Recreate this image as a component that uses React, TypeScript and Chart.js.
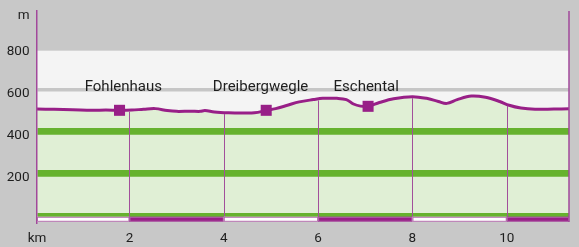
import React, { useEffect, useRef } from 'react';
import { Chart, registerables } from 'chart.js';

Chart.register(...registerables);

// ---- data ----
const profileKm = [0.04, 0.4, 0.8, 1.2, 1.5, 1.79, 2.05, 2.3, 2.55, 2.8, 3.0, 3.3, 3.5, 3.6, 3.8, 4.1, 4.4, 4.65, 4.9, 5.1, 5.35, 5.6, 5.9, 6.1, 6.4, 6.6, 6.75, 6.9, 7.06, 7.3, 7.6, 8.0, 8.3, 8.55, 8.73, 8.95, 9.25, 9.55, 9.85, 10.05, 10.3, 10.6, 11.0, 11.32];
const profileElev = [507, 506, 504, 501, 502, 501, 502, 506, 509, 500, 496, 497, 496, 500, 493, 489, 488, 489, 500, 509, 525, 541, 552, 558, 558, 552, 531, 521, 520, 538, 556, 566, 558, 543, 534, 552, 569, 563, 543, 525, 512, 506, 507, 508];

const placeNames = ['Fohlenhaus', 'Dreibergwegle', 'Eschental'];
const placeKm = [1.79, 4.9, 7.06];
const placeElev = [501, 501, 520];
const placeLabelKm = [1.87, 4.78, 7.02];

const xTickKm = [2, 4, 6, 8, 10];
const yTickElev = [0, 200, 400, 600, 800];

const X_MIN = 0.04;
const X_MAX = 11.32;
const Y_MIN = -31;
const Y_MAX = 974;
const BAND_TOP = 785;
const LABEL_ELEV = 600;
const BAR_TOP = -6;
const BAR_BOTTOM = -30;

// ---- styles ----
const BG = '#c8c8c8';
const BAND = '#f4f4f4';
const FILL = '#e0efd5';
const GREEN = '#66b22e';
const GRAYLINE = '#c6c6c6';
const PURPLE = '#981f87';
const AXIS = '#a2489b';
const VLINE = '#a24f9b';
const BAR_EDGE = '#b06aaa';
const TEXT = '#1e1e1e';
const FONT = 'Roboto';

function interpElev(km: number): number {
  for (let i = 0; i < profileKm.length - 1; i++) {
    if (km >= profileKm[i] && km <= profileKm[i + 1]) {
      const t = (km - profileKm[i]) / (profileKm[i + 1] - profileKm[i]);
      return profileElev[i] + t * (profileElev[i + 1] - profileElev[i]);
    }
  }
  return profileElev[profileElev.length - 1];
}

const decorPlugin = {
  id: 'profileDecor',
  beforeDraw(chart: any) {
    const { ctx, chartArea, scales } = chart;
    const y = scales.y;
    ctx.save();
    ctx.fillStyle = BG;
    ctx.fillRect(0, 0, chart.width, chart.height);
    const top = y.getPixelForValue(BAND_TOP);
    const bottom = y.getPixelForValue(0);
    ctx.fillStyle = BAND;
    ctx.fillRect(chartArea.left, top, chartArea.right - chartArea.left, bottom - top);
    ctx.restore();
  },
  afterDraw(chart: any) {
    const { ctx, chartArea, scales } = chart;
    const x = scales.x;
    const y = scales.y;
    ctx.save();
    // vertical km lines under the profile
    ctx.strokeStyle = VLINE;
    ctx.lineWidth = 1;
    xTickKm.forEach((k) => {
      const px = Math.round(x.getPixelForValue(k)) + 0.5;
      const py = y.getPixelForValue(interpElev(k)) + 1.5;
      ctx.beginPath();
      ctx.moveTo(px, py);
      ctx.lineTo(px, chartArea.bottom);
      ctx.stroke();
    });
    // bottom km bar
    const bTop = y.getPixelForValue(BAR_TOP);
    const bBot = y.getPixelForValue(BAR_BOTTOM);
    const bounds = [X_MIN, ...xTickKm, X_MAX];
    for (let i = 0; i < bounds.length - 1; i++) {
      const x0 = x.getPixelForValue(bounds[i]);
      const x1 = x.getPixelForValue(bounds[i + 1]);
      ctx.fillStyle = i % 2 === 0 ? '#ffffff' : PURPLE;
      ctx.fillRect(x0, bTop, x1 - x0, bBot - bTop);
      ctx.strokeStyle = BAR_EDGE;
      ctx.lineWidth = 1;
      ctx.strokeRect(x0 + 0.5, bTop + 0.5, x1 - x0 - 1, bBot - bTop - 1);
    }
    // right border
    ctx.strokeStyle = AXIS;
    ctx.lineWidth = 1.5;
    ctx.beginPath();
    ctx.moveTo(chartArea.right, chartArea.top);
    ctx.lineTo(chartArea.right, chartArea.bottom);
    ctx.stroke();
    // place labels
    ctx.fillStyle = TEXT;
    ctx.font = `15px ${FONT}`;
    ctx.textAlign = 'center';
    ctx.textBaseline = 'alphabetic';
    const ly = y.getPixelForValue(LABEL_ELEV) + 1.5;
    placeNames.forEach((name, i) => {
      ctx.fillText(name, x.getPixelForValue(placeLabelKm[i]), ly);
    });
    ctx.restore();
  },
};

export default function App() {
  const canvasRef = useRef<HTMLCanvasElement | null>(null);

  useEffect(() => {
    document.body.style.margin = '0';
    document.body.style.background = BG;
    const canvas = canvasRef.current;
    if (!canvas) return;

    const gridColor = (ctx: any) => {
      const v = ctx.tick ? ctx.tick.value : null;
      if (v === 600) return GRAYLINE;
      if (v === 0 || v === 200 || v === 400) return GREEN;
      return 'rgba(0,0,0,0)';
    };
    const gridWidth = (ctx: any) => {
      const v = ctx.tick ? ctx.tick.value : null;
      if (v === 600) return 3.4;
      if (v === 0) return 4;
      if (v === 200 || v === 400) return 6.7;
      return 0;
    };

    const chart = new Chart(canvas, {
      type: 'line',
      data: {
        datasets: [
          {
            label: 'places',
            data: placeKm.map((k, i) => ({ x: k, y: placeElev[i] })),
            showLine: false,
            pointStyle: 'rect',
            pointRadius: 7.8,
            pointBorderWidth: 0,
            pointBackgroundColor: PURPLE,
            borderColor: PURPLE,
            order: 0,
          },
          {
            label: 'profile',
            data: profileKm.map((k, i) => ({ x: k, y: profileElev[i] })),
            borderColor: PURPLE,
            borderWidth: 3,
            backgroundColor: FILL,
            fill: 'origin',
            pointRadius: 0,
            tension: 0.35,
            order: 1,
          },
        ],
      },
      options: {
        animation: false,
        responsive: false,
        devicePixelRatio: 1,
        layout: { padding: { top: 11, right: 10, left: 0, bottom: 0 } },
        plugins: { legend: { display: false }, tooltip: { enabled: false } },
        scales: {
          x: {
            type: 'linear',
            min: X_MIN,
            max: X_MAX,
            afterBuildTicks: (s: any) => {
              s.ticks = [{ value: X_MIN }, ...xTickKm.map((v) => ({ value: v }))];
            },
            ticks: {
              autoSkip: false,
              maxRotation: 0,
              padding: 1,
              color: TEXT,
              font: { family: FONT, size: 13.5 },
              callback: (v: any) => (v === X_MIN ? 'km' : String(v)),
            },
            grid: { display: false },
            border: { display: false },
            afterFit: (s: any) => {
              s.height = 25;
            },
          },
          y: {
            type: 'linear',
            min: Y_MIN,
            max: Y_MAX,
            afterBuildTicks: (s: any) => {
              s.ticks = [...yTickElev.map((v) => ({ value: v })), { value: Y_MAX }];
            },
            ticks: {
              autoSkip: false,
              padding: 7.5,
              labelOffset: 4.5,
              color: TEXT,
              font: { family: FONT, size: 13.5 },
              callback: (v: any) => (v === Y_MAX ? 'm' : v === 0 ? '' : String(v)),
            },
            grid: { z: 1, drawTicks: false, color: gridColor, lineWidth: gridWidth },
            border: { color: AXIS, width: 1.5, z: 2 },
            afterFit: (s: any) => {
              s.width = 37;
              s.paddingTop = 0;
              s.paddingBottom = 0;
            },
          },
        },
      },
      plugins: [decorPlugin],
    });

    return () => chart.destroy();
  }, []);

  return (
    <div style={{ width: 579, height: 247 }}>
      <canvas ref={canvasRef} width={579} height={247} style={{ display: 'block' }} />
    </div>
  );
}
